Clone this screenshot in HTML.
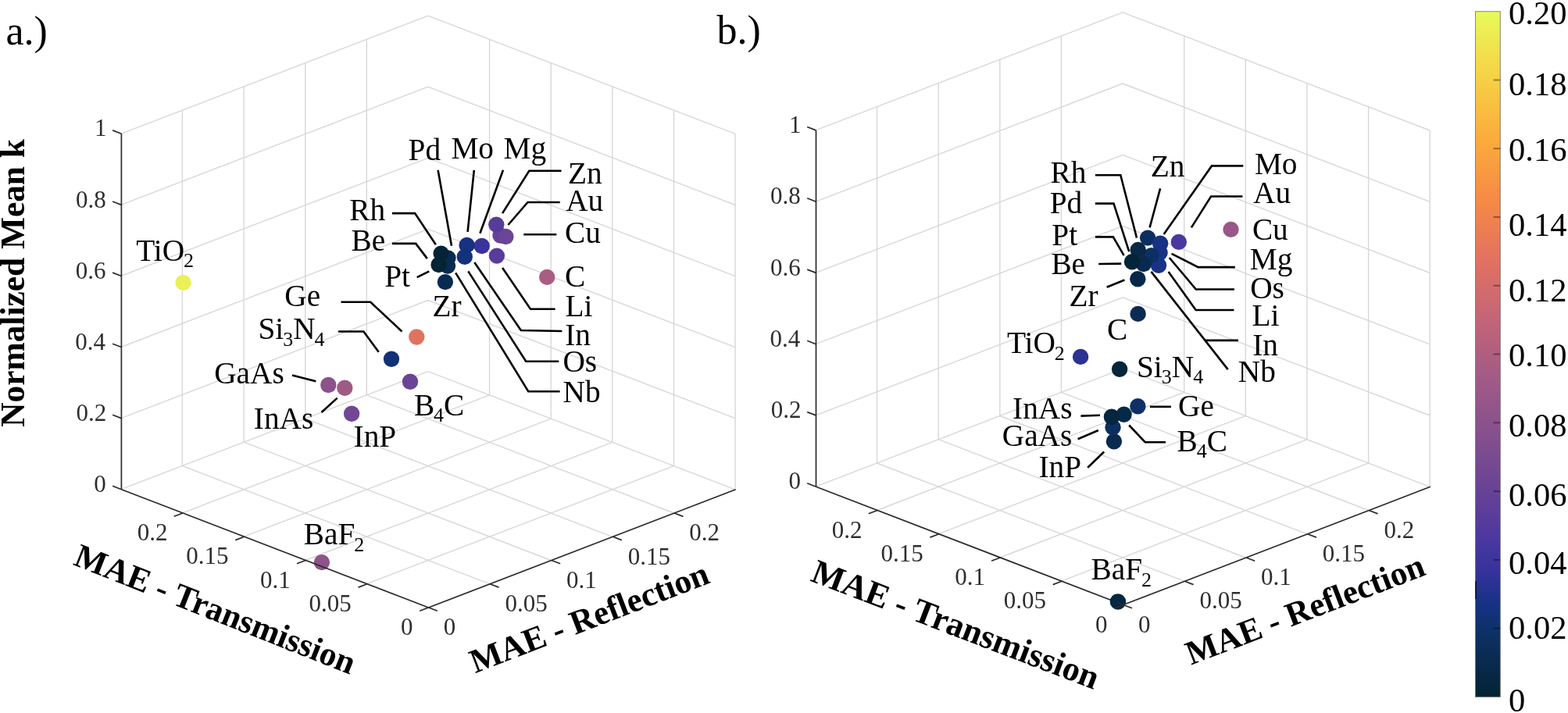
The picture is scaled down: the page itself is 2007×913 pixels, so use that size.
<!DOCTYPE html>
<html><head><meta charset="utf-8"><title>Normalized Mean k vs MAE</title><style>
html,body{margin:0;padding:0;background:#fff;}
svg{display:block;}
.gr{stroke:#d8d8d8;stroke-width:1.4;fill:none;}
.ax{stroke:#2b2b2b;stroke-width:1.7;fill:none;stroke-linecap:butt;}
.ld{stroke:#000;stroke-width:2.6;fill:none;stroke-linejoin:miter;}
.cbt{stroke:#000;stroke-opacity:0.38;stroke-width:2;}
text{font-family:"Liberation Serif","Times New Roman",serif;fill:#000;}
.tk{font-size:31px;fill:#2e2e2e;}
.ml{font-size:39.3px;}
.sb{font-size:26px;}
.pl{font-size:52px;}
.cbl{font-size:42.5px;}
.al{font-size:44.3px;font-weight:bold;}
.al2{font-size:42px;font-weight:bold;}
</style></head>
<body><svg width="2007" height="913" viewBox="0 0 2007 913">
<defs><linearGradient id="cm" x1="0" y1="0" x2="0" y2="1"><stop offset="0.0000" stop-color="#e7fa5a"/><stop offset="0.0909" stop-color="#f6d346"/><stop offset="0.1818" stop-color="#fbad3c"/><stop offset="0.2727" stop-color="#f68b45"/><stop offset="0.3636" stop-color="#e17161"/><stop offset="0.4545" stop-color="#c16479"/><stop offset="0.5455" stop-color="#9e5987"/><stop offset="0.6364" stop-color="#7e4d8f"/><stop offset="0.7273" stop-color="#5d3e99"/><stop offset="0.7727" stop-color="#4a37a0"/><stop offset="0.8182" stop-color="#35329b"/><stop offset="0.8636" stop-color="#163284"/><stop offset="0.9091" stop-color="#0d3064"/><stop offset="1.0000" stop-color="#032333"/></linearGradient></defs>
<rect width="2007" height="913" fill="#fff"/>
<g transform="translate(-0.6,0)">
<line class="gr" x1="469.9" y1="747.7" x2="863.1" y2="596.6"/>
<line class="gr" x1="391.3" y1="717.5" x2="784.4" y2="566.3"/>
<line class="gr" x1="312.7" y1="687.2" x2="705.8" y2="536.1"/>
<line class="gr" x1="234.0" y1="657.0" x2="627.2" y2="505.8"/>
<line class="gr" x1="627.2" y1="747.7" x2="234.0" y2="596.5"/>
<line class="gr" x1="705.8" y1="717.5" x2="312.7" y2="566.2"/>
<line class="gr" x1="784.4" y1="687.3" x2="391.3" y2="536.0"/>
<line class="gr" x1="863.1" y1="657.0" x2="469.9" y2="505.8"/>
<line class="gr" x1="155.4" y1="626.7" x2="548.5" y2="475.6"/>
<line class="gr" x1="155.4" y1="535.6" x2="548.5" y2="384.5"/>
<line class="gr" x1="155.4" y1="444.5" x2="548.5" y2="293.4"/>
<line class="gr" x1="155.4" y1="353.5" x2="548.5" y2="202.3"/>
<line class="gr" x1="155.4" y1="262.4" x2="548.5" y2="111.2"/>
<line class="gr" x1="155.4" y1="171.3" x2="548.5" y2="20.2"/>
<line class="gr" x1="234.0" y1="596.5" x2="234.0" y2="141.1"/>
<line class="gr" x1="312.7" y1="566.2" x2="312.7" y2="110.8"/>
<line class="gr" x1="391.3" y1="536.0" x2="391.3" y2="80.6"/>
<line class="gr" x1="469.9" y1="505.8" x2="469.9" y2="50.4"/>
<line class="gr" x1="941.7" y1="626.8" x2="548.5" y2="475.6"/>
<line class="gr" x1="941.7" y1="535.7" x2="548.5" y2="384.5"/>
<line class="gr" x1="941.7" y1="444.6" x2="548.5" y2="293.4"/>
<line class="gr" x1="941.7" y1="353.6" x2="548.5" y2="202.3"/>
<line class="gr" x1="941.7" y1="262.5" x2="548.5" y2="111.2"/>
<line class="gr" x1="941.7" y1="171.4" x2="548.5" y2="20.2"/>
<line class="gr" x1="941.7" y1="626.8" x2="941.7" y2="171.4"/>
<line class="gr" x1="863.1" y1="596.6" x2="863.1" y2="141.2"/>
<line class="gr" x1="784.4" y1="566.3" x2="784.4" y2="110.9"/>
<line class="gr" x1="705.8" y1="536.1" x2="705.8" y2="80.7"/>
<line class="gr" x1="627.2" y1="505.8" x2="627.2" y2="50.4"/>
<line class="gr" x1="1359.0" y1="744.2" x2="1752.2" y2="593.1"/>
<line class="gr" x1="1280.4" y1="714.0" x2="1673.5" y2="562.8"/>
<line class="gr" x1="1201.8" y1="683.7" x2="1594.9" y2="532.6"/>
<line class="gr" x1="1123.1" y1="653.5" x2="1516.3" y2="502.3"/>
<line class="gr" x1="1516.3" y1="744.2" x2="1123.1" y2="593.0"/>
<line class="gr" x1="1594.9" y1="714.0" x2="1201.8" y2="562.7"/>
<line class="gr" x1="1673.5" y1="683.8" x2="1280.4" y2="532.5"/>
<line class="gr" x1="1752.2" y1="653.5" x2="1359.0" y2="502.3"/>
<line class="gr" x1="1044.5" y1="623.2" x2="1437.7" y2="472.1"/>
<line class="gr" x1="1044.5" y1="531.9" x2="1437.7" y2="380.8"/>
<line class="gr" x1="1044.5" y1="440.7" x2="1437.7" y2="289.5"/>
<line class="gr" x1="1044.5" y1="349.4" x2="1437.7" y2="198.3"/>
<line class="gr" x1="1044.5" y1="258.2" x2="1437.7" y2="107.0"/>
<line class="gr" x1="1044.5" y1="166.9" x2="1437.7" y2="15.8"/>
<line class="gr" x1="1123.1" y1="593.0" x2="1123.1" y2="136.7"/>
<line class="gr" x1="1201.8" y1="562.7" x2="1201.8" y2="106.4"/>
<line class="gr" x1="1280.4" y1="532.5" x2="1280.4" y2="76.2"/>
<line class="gr" x1="1359.0" y1="502.3" x2="1359.0" y2="46.0"/>
<line class="gr" x1="1830.8" y1="623.3" x2="1437.7" y2="472.1"/>
<line class="gr" x1="1830.8" y1="532.0" x2="1437.7" y2="380.8"/>
<line class="gr" x1="1830.8" y1="440.8" x2="1437.7" y2="289.5"/>
<line class="gr" x1="1830.8" y1="349.5" x2="1437.7" y2="198.3"/>
<line class="gr" x1="1830.8" y1="258.3" x2="1437.7" y2="107.0"/>
<line class="gr" x1="1830.8" y1="167.0" x2="1437.7" y2="15.8"/>
<line class="gr" x1="1830.8" y1="623.3" x2="1830.8" y2="167.0"/>
<line class="gr" x1="1752.2" y1="593.1" x2="1752.2" y2="136.8"/>
<line class="gr" x1="1673.5" y1="562.8" x2="1673.5" y2="106.5"/>
<line class="gr" x1="1594.9" y1="532.6" x2="1594.9" y2="76.3"/>
<line class="gr" x1="1516.3" y1="502.3" x2="1516.3" y2="46.0"/>
</g>
<polyline class="ld" points="560.6,217.8 578.0,314.8"/>
<polyline class="ld" points="606.8,217.8 598.6,296.8"/>
<polyline class="ld" points="644.0,217.8 614.4,298.8"/>
<polyline class="ld" points="718.5,218.7 677.3,218.7 643.1,273.1"/>
<polyline class="ld" points="716.7,259.0 675.5,259.0 650.4,288.0"/>
<polyline class="ld" points="670.3,300.2 712.3,300.2"/>
<polyline class="ld" points="501.9,273.1 531.1,273.1 557.8,313.3"/>
<polyline class="ld" points="501.9,311.9 532.2,311.9 546.8,331.1"/>
<polyline class="ld" points="533.7,355.1 549.3,347.4"/>
<polyline class="ld" points="643.1,343.0 679.0,395.7 710.6,395.7"/>
<polyline class="ld" points="607.3,336.0 666.8,423.0 719.4,424.0"/>
<polyline class="ld" points="599.3,347.4 673.2,462.8 715.3,462.8"/>
<polyline class="ld" points="583.2,349.4 676.2,501.3 716.6,501.3"/>
<polyline class="ld" points="436.5,386.8 474.2,386.8 514.5,424.5"/>
<polyline class="ld" points="433.0,424.5 465.4,424.5 484.7,450.7"/>
<polyline class="ld" points="374.0,480.6 404.3,488.3"/>
<polyline class="ld" points="411.5,528.0 431.7,509.6"/>
<polyline class="ld" points="1401.9,224.3 1434.3,224.3 1455.0,304.6"/>
<polyline class="ld" points="1401.9,260.6 1425.5,260.6 1445.2,322.2"/>
<polyline class="ld" points="1401.9,303.4 1424.8,303.4 1438.6,327.1"/>
<polyline class="ld" points="1406.2,338.0 1435.2,337.6"/>
<polyline class="ld" points="1416.7,367.8 1439.4,358.5"/>
<polyline class="ld" points="1485.1,241.3 1471.6,291.4"/>
<polyline class="ld" points="1591.3,212.4 1551.0,212.4 1489.6,300.0"/>
<polyline class="ld" points="1590.4,251.5 1550.1,251.5 1524.9,291.4"/>
<polyline class="ld" points="1580.8,342.1 1533.5,342.1 1499.6,324.9"/>
<polyline class="ld" points="1579.9,370.5 1530.8,370.5 1496.7,330.0"/>
<polyline class="ld" points="1579.5,397.0 1530.6,397.0 1495.6,348.0"/>
<polyline class="ld" points="1584.9,435.9 1542.5,435.9"/>
<polyline class="ld" points="1473.5,347.9 1571.7,473.1"/>
<polyline class="ld" points="1383.4,532.6 1408.0,531.7"/>
<polyline class="ld" points="1379.6,562.2 1405.9,551.0"/>
<polyline class="ld" points="1392.2,598.7 1413.2,578.5"/>
<polyline class="ld" points="1471.9,520.8 1499.0,520.8"/>
<polyline class="ld" points="1445.2,544.5 1465.7,566.2 1492.0,566.2"/>
<circle cx="234.5" cy="361.9" r="10.2" fill="#eaf156"/>
<circle cx="411.9" cy="720.1" r="10.2" fill="#8e538b"/>
<circle cx="420.3" cy="493.0" r="10.2" fill="#8b528c"/>
<circle cx="441.3" cy="496.7" r="10.2" fill="#a05a86"/>
<circle cx="450.1" cy="529.7" r="10.2" fill="#724793"/>
<circle cx="525.0" cy="488.7" r="10.2" fill="#6b4495"/>
<circle cx="501.0" cy="459.8" r="10.2" fill="#133178"/>
<circle cx="533.3" cy="431.5" r="10.2" fill="#e27260"/>
<circle cx="700.2" cy="354.9" r="10.2" fill="#aa5d82"/>
<circle cx="640.5" cy="301.5" r="10.2" fill="#674296"/>
<circle cx="647.4" cy="303.0" r="10.2" fill="#6b4495"/>
<circle cx="635.3" cy="287.6" r="10.2" fill="#583c9b"/>
<circle cx="635.9" cy="327.6" r="10.2" fill="#583c9b"/>
<circle cx="616.7" cy="315.0" r="10.2" fill="#39339c"/>
<circle cx="597.6" cy="313.9" r="10.2" fill="#163283"/>
<circle cx="594.8" cy="328.7" r="10.2" fill="#14327c"/>
<circle cx="573.4" cy="330.5" r="10.2" fill="#092b51"/>
<circle cx="573.0" cy="340.6" r="10.2" fill="#092b51"/>
<circle cx="564.6" cy="324.6" r="10.2" fill="#042436"/>
<circle cx="561.6" cy="339.0" r="10.2" fill="#042436"/>
<circle cx="569.9" cy="361.1" r="10.2" fill="#092b51"/>
<circle cx="1431.0" cy="770.5" r="10.2" fill="#062740"/>
<circle cx="1575.5" cy="293.9" r="10.2" fill="#995788"/>
<circle cx="1508.8" cy="309.9" r="10.2" fill="#4b37a0"/>
<circle cx="1383.1" cy="456.9" r="10.2" fill="#2a3292"/>
<circle cx="1456.6" cy="401.9" r="10.2" fill="#0a2c53"/>
<circle cx="1433.1" cy="472.7" r="10.2" fill="#05253b"/>
<circle cx="1456.4" cy="520.2" r="10.2" fill="#0e3067"/>
<circle cx="1438.6" cy="530.8" r="10.2" fill="#072949"/>
<circle cx="1425.9" cy="565.3" r="10.2" fill="#082a4e"/>
<circle cx="1424.5" cy="547.3" r="10.2" fill="#0c2f61"/>
<circle cx="1422.9" cy="533.8" r="10.2" fill="#05263e"/>
<circle cx="1456.3" cy="357.2" r="10.2" fill="#072949"/>
<circle cx="1469.1" cy="304.6" r="10.2" fill="#0c2e5e"/>
<circle cx="1485.1" cy="311.8" r="10.2" fill="#183286"/>
<circle cx="1484.6" cy="323.6" r="10.2" fill="#183286"/>
<circle cx="1483.0" cy="339.7" r="10.2" fill="#183286"/>
<circle cx="1473.7" cy="327.1" r="10.2" fill="#0d3064"/>
<circle cx="1456.7" cy="320.0" r="10.2" fill="#072846"/>
<circle cx="1463.8" cy="338.0" r="10.2" fill="#082a4e"/>
<circle cx="1449.0" cy="335.3" r="10.2" fill="#042438"/>
<line class="ax" x1="155.4" y1="626.7" x2="155.4" y2="171.3"/>
<line class="ax" x1="548.5" y1="778.0" x2="155.4" y2="626.7"/>
<line class="ax" x1="548.5" y1="778.0" x2="941.7" y2="626.8"/>
<line class="ax" x1="548.5" y1="778.0" x2="537.2" y2="782.3"/>
<text class="tk" x="512.9" y="813.0">0</text>
<line class="ax" x1="469.9" y1="747.7" x2="458.6" y2="752.1"/>
<text class="tk" x="395.6" y="782.7">0.05</text>
<line class="ax" x1="391.3" y1="717.5" x2="380.0" y2="721.8"/>
<text class="tk" x="333.1" y="752.5">0.1</text>
<line class="ax" x1="312.7" y1="687.2" x2="301.3" y2="691.6"/>
<text class="tk" x="238.3" y="722.2">0.15</text>
<line class="ax" x1="234.0" y1="657.0" x2="222.7" y2="661.3"/>
<text class="tk" x="175.7" y="692.0">0.2</text>
<line class="ax" x1="548.5" y1="778.0" x2="559.9" y2="782.3"/>
<text class="tk" x="567.8" y="813.2">0</text>
<line class="ax" x1="627.2" y1="747.7" x2="638.5" y2="752.1"/>
<text class="tk" x="646.4" y="782.9">0.05</text>
<line class="ax" x1="705.8" y1="717.5" x2="717.1" y2="721.8"/>
<text class="tk" x="725.0" y="752.7">0.1</text>
<line class="ax" x1="784.4" y1="687.3" x2="795.8" y2="691.6"/>
<text class="tk" x="803.7" y="722.5">0.15</text>
<line class="ax" x1="863.1" y1="657.0" x2="874.4" y2="661.4"/>
<text class="tk" x="882.3" y="692.2">0.2</text>
<line class="ax" x1="155.4" y1="626.7" x2="144.1" y2="622.3"/>
<text class="tk" x="120.3" y="629.8">0</text>
<line class="ax" x1="155.4" y1="535.6" x2="144.1" y2="531.3"/>
<text class="tk" x="97.6" y="538.7">0.2</text>
<line class="ax" x1="155.4" y1="444.5" x2="144.1" y2="440.2"/>
<text class="tk" x="96.3" y="447.6">0.4</text>
<line class="ax" x1="155.4" y1="353.5" x2="144.1" y2="349.1"/>
<text class="tk" x="96.8" y="356.6">0.6</text>
<line class="ax" x1="155.4" y1="262.4" x2="144.1" y2="258.0"/>
<text class="tk" x="97.0" y="265.5">0.8</text>
<line class="ax" x1="155.4" y1="171.3" x2="144.1" y2="166.9"/>
<text class="tk" x="121.0" y="174.4">1</text>
<line class="ax" x1="1044.5" y1="623.2" x2="1044.5" y2="166.9"/>
<line class="ax" x1="1437.7" y1="774.5" x2="1044.5" y2="623.2"/>
<line class="ax" x1="1437.7" y1="774.5" x2="1830.8" y2="623.3"/>
<line class="ax" x1="1437.7" y1="774.5" x2="1426.3" y2="778.8"/>
<text class="tk" x="1402.0" y="809.5">0</text>
<line class="ax" x1="1359.0" y1="744.2" x2="1347.7" y2="748.6"/>
<text class="tk" x="1284.7" y="779.2">0.05</text>
<line class="ax" x1="1280.4" y1="714.0" x2="1269.1" y2="718.3"/>
<text class="tk" x="1222.2" y="749.0">0.1</text>
<line class="ax" x1="1201.8" y1="683.7" x2="1190.4" y2="688.1"/>
<text class="tk" x="1127.5" y="718.7">0.15</text>
<line class="ax" x1="1123.1" y1="653.5" x2="1111.8" y2="657.8"/>
<text class="tk" x="1064.8" y="688.5">0.2</text>
<line class="ax" x1="1437.7" y1="774.5" x2="1449.0" y2="778.8"/>
<text class="tk" x="1456.9" y="809.7">0</text>
<line class="ax" x1="1516.3" y1="744.2" x2="1527.6" y2="748.6"/>
<text class="tk" x="1535.5" y="779.4">0.05</text>
<line class="ax" x1="1594.9" y1="714.0" x2="1606.2" y2="718.3"/>
<text class="tk" x="1614.1" y="749.2">0.1</text>
<line class="ax" x1="1673.5" y1="683.8" x2="1684.9" y2="688.1"/>
<text class="tk" x="1692.8" y="719.0">0.15</text>
<line class="ax" x1="1752.2" y1="653.5" x2="1763.5" y2="657.9"/>
<text class="tk" x="1771.4" y="688.7">0.2</text>
<line class="ax" x1="1044.5" y1="623.2" x2="1033.2" y2="618.8"/>
<text class="tk" x="1009.4" y="626.3">0</text>
<line class="ax" x1="1044.5" y1="531.9" x2="1033.2" y2="527.6"/>
<text class="tk" x="986.7" y="535.0">0.2</text>
<line class="ax" x1="1044.5" y1="440.7" x2="1033.2" y2="436.3"/>
<text class="tk" x="985.4" y="443.8">0.4</text>
<line class="ax" x1="1044.5" y1="349.4" x2="1033.2" y2="345.1"/>
<text class="tk" x="985.9" y="352.5">0.6</text>
<line class="ax" x1="1044.5" y1="258.2" x2="1033.2" y2="253.8"/>
<text class="tk" x="986.1" y="261.3">0.8</text>
<line class="ax" x1="1044.5" y1="166.9" x2="1033.2" y2="162.5"/>
<text class="tk" x="1010.1" y="170.0">1</text>
<clipPath id="bfclip"><rect x="1415" y="755" width="13.6" height="21"/></clipPath>
<circle cx="1431.0" cy="770.5" r="10.2" fill="#062740" clip-path="url(#bfclip)"/>
<text class="ml" x="174.2" y="333.8">TiO<tspan class="sb" dx="-1" dy="8.5">2</tspan><tspan dy="-8.5">​</tspan></text>
<text class="ml" x="522.6" y="204.7">Pd</text>
<text class="ml" x="577.4" y="202.9">Mo</text>
<text class="ml" x="644.5" y="202.9">Mg</text>
<text class="ml" x="727.1" y="234.5">Zn</text>
<text class="ml" x="724.2" y="270.1">Au</text>
<text class="ml" x="723.0" y="310.7">Cu</text>
<text class="ml" x="723.0" y="366.8">C</text>
<text class="ml" x="723.4" y="404.5">Li</text>
<text class="ml" x="723.2" y="442.2">In</text>
<text class="ml" x="720.4" y="476.4">Os</text>
<text class="ml" x="720.6" y="514.5">Nb</text>
<text class="ml" x="447.3" y="281.6">Rh</text>
<text class="ml" x="449.5" y="321.2">Be</text>
<text class="ml" x="492.2" y="366.7">Pt</text>
<text class="ml" x="553.5" y="405.3">Zr</text>
<text class="ml" x="364.3" y="392.0">Ge</text>
<text class="ml" x="330.4" y="434.1">Si<tspan class="sb" dx="-1" dy="8.5">3</tspan><tspan dy="-8.5">​</tspan>N<tspan class="sb" dx="-1" dy="8.5">4</tspan><tspan dy="-8.5">​</tspan></text>
<text class="ml" x="274.2" y="491.2">GaAs</text>
<text class="ml" x="324.8" y="549.0">InAs</text>
<text class="ml" x="452.6" y="571.8">InP</text>
<text class="ml" x="529.9" y="531.5">B<tspan class="sb" dx="-1" dy="8.5">4</tspan><tspan dy="-8.5">​</tspan>C</text>
<text class="ml" x="388.8" y="697.0">BaF<tspan class="sb" dx="-1" dy="8.5">2</tspan><tspan dy="-8.5">​</tspan></text>
<text class="ml" x="1344.6" y="234.3">Rh</text>
<text class="ml" x="1343.7" y="272.9">Pd</text>
<text class="ml" x="1346.3" y="314.1">Pt</text>
<text class="ml" x="1345.4" y="351.2">Be</text>
<text class="ml" x="1368.4" y="392.4">Zr</text>
<text class="ml" x="1416.9" y="434.5">C</text>
<text class="ml" x="1288.9" y="452.0">TiO<tspan class="sb" dx="-1" dy="8.5">2</tspan><tspan dy="-8.5">​</tspan></text>
<text class="ml" x="1472.7" y="225.9">Zn</text>
<text class="ml" x="1605.9" y="222.9">Mo</text>
<text class="ml" x="1604.1" y="260.3">Au</text>
<text class="ml" x="1602.9" y="307.1">Cu</text>
<text class="ml" x="1599.7" y="345.1">Mg</text>
<text class="ml" x="1600.2" y="381.9">Os</text>
<text class="ml" x="1602.4" y="416.9">Li</text>
<text class="ml" x="1603.2" y="455.0">In</text>
<text class="ml" x="1584.8" y="489.2">Nb</text>
<text class="ml" x="1455.0" y="482.9">Si<tspan class="sb" dx="-1" dy="8.5">3</tspan><tspan dy="-8.5">​</tspan>N<tspan class="sb" dx="-1" dy="8.5">4</tspan><tspan dy="-8.5">​</tspan></text>
<text class="ml" x="1296.1" y="535.9">InAs</text>
<text class="ml" x="1282.8" y="571.0">GaAs</text>
<text class="ml" x="1329.4" y="610.9">InP</text>
<text class="ml" x="1508.0" y="532.6">Ge</text>
<text class="ml" x="1506.6" y="577.8">B<tspan class="sb" dx="-1" dy="8.5">4</tspan><tspan dy="-8.5">​</tspan>C</text>
<text class="ml" x="1396.6" y="742.4">BaF<tspan class="sb" dx="-1" dy="8.5">2</tspan><tspan dy="-8.5">​</tspan></text>
<text class="pl" x="7.5" y="57.0">a.)</text>
<text class="pl" x="917.6" y="56.0">b.)</text>
<text class="al" transform="translate(31.1,546.8) rotate(-90)" style="font-size:43.4px">Normalized Mean k</text>
<text class="al2" transform="translate(270.3,793.3) rotate(21.62)" text-anchor="middle" style="font-size:43.21px">MAE - Transmission</text>
<text class="al2" transform="translate(759.4,804.0) rotate(-21.04)" text-anchor="middle" style="font-size:43.2px">MAE - Reflection</text>
<text class="al2" transform="translate(1218.1,813.2) rotate(20.95)" text-anchor="middle" style="font-size:44.05px">MAE - Transmission</text>
<text class="al2" transform="translate(1675.6,793.7) rotate(-21.04)" text-anchor="middle" style="font-size:43.2px">MAE - Reflection</text>
<rect x="1888.5" y="14.7" width="31.8" height="877.7" fill="url(#cm)" stroke="#6b6b6b" stroke-opacity="0.8" stroke-width="1"/>
<line x1="1889.1" y1="744" x2="1889.1" y2="767" stroke="#0b0e2a" stroke-width="1.6"/>
<text class="cbl" x="1931.0" y="910.8">0</text>
<line class="cbt" x1="1911.6" y1="804.6" x2="1920.3" y2="804.6"/>
<text class="cbl" x="1931.0" y="818.0">0.02</text>
<line class="cbt" x1="1911.6" y1="716.9" x2="1920.3" y2="716.9"/>
<text class="cbl" x="1931.0" y="734.7">0.04</text>
<line class="cbt" x1="1911.6" y1="629.1" x2="1920.3" y2="629.1"/>
<text class="cbl" x="1931.0" y="647.8">0.06</text>
<line class="cbt" x1="1911.6" y1="541.3" x2="1920.3" y2="541.3"/>
<text class="cbl" x="1931.0" y="559.3">0.08</text>
<line class="cbt" x1="1911.6" y1="453.5" x2="1920.3" y2="453.5"/>
<text class="cbl" x="1931.0" y="469.2">0.10</text>
<line class="cbt" x1="1911.6" y1="365.8" x2="1920.3" y2="365.8"/>
<text class="cbl" x="1931.0" y="386.4">0.12</text>
<line class="cbt" x1="1911.6" y1="278.0" x2="1920.3" y2="278.0"/>
<text class="cbl" x="1931.0" y="301.9">0.14</text>
<line class="cbt" x1="1911.6" y1="190.2" x2="1920.3" y2="190.2"/>
<text class="cbl" x="1931.0" y="206.1">0.16</text>
<line class="cbt" x1="1911.6" y1="102.5" x2="1920.3" y2="102.5"/>
<text class="cbl" x="1931.0" y="121.9">0.18</text>
<text class="cbl" x="1931.0" y="30.6">0.20</text>
</svg></body></html>
